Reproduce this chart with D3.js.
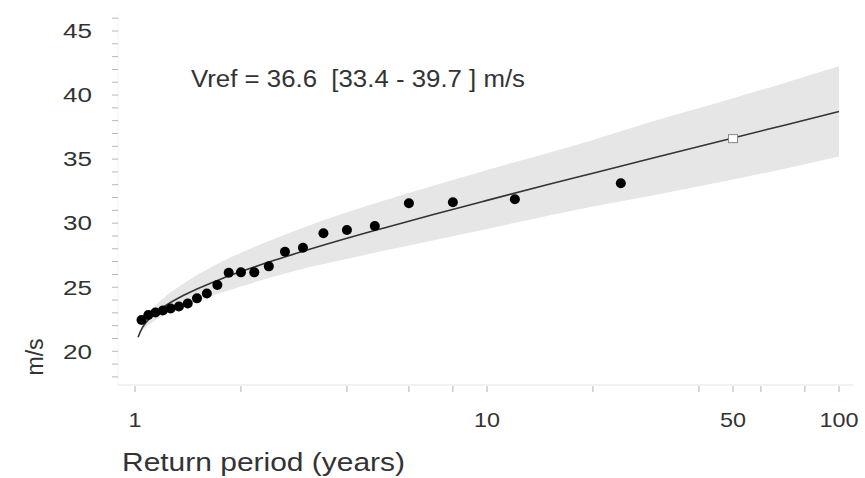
<!DOCTYPE html>
<html><head><meta charset="utf-8">
<script src="https://cdn.jsdelivr.net/npm/d3@7"></script>
<style>body{margin:0;background:#fff}svg{display:block}text{font-family:"Liberation Sans",Arial,sans-serif;fill:#333;white-space:pre}</style>
</head><body><svg id="c" width="865" height="478"></svg>
<script>
// Observed annual maxima: return period (years) and speed (m/s)
const obsT = [24,12,8,6,4.8,4,3.43,3,2.667,2.4,2.182,2,1.846,1.714,1.6,1.5,1.412,1.333,1.263,1.2,1.143,1.091,1.0435];
const obsV = [33.11,31.86,31.63,31.55,29.78,29.47,29.21,28.08,27.77,26.63,26.16,26.16,26.13,25.17,24.51,24.13,23.73,23.49,23.34,23.18,23.03,22.83,22.44];
// Fitted curve
const fitT = [1.02,1.05,1.1,1.2,1.35,1.5,1.75,2,2.5,3,4,5,7,10,15,20,30,50,70,100];
const fitV = [21.10,21.86,22.56,23.42,24.26,24.86,25.63,26.22,27.12,27.80,28.82,29.56,30.66,31.78,33.03,33.90,35.12,36.65,37.65,38.71];
// Confidence band
const bandT = [1.04,1.1,1.2,1.35,1.5,1.75,2,2.5,3,4,5,7,10,15,20,30,50,70,100];
const bandUp = [21.8,23.0,24.1,25.15,25.95,26.95,27.7,28.8,29.65,30.85,31.7,32.9,34.15,35.5,36.5,38.0,39.75,40.95,42.25];
const bandLo = [21.5,22.1,22.8,23.45,23.9,24.55,25.05,25.85,26.45,27.2,27.8,28.65,29.55,30.6,31.3,32.2,33.4,34.25,35.2];
// Reference value
const refT = [50];
const refV = [36.6];
// Ticks
const xTicks = [1,2,4,6,8,10,20,40,50,60,80,100];
const xLabels = [1,10,50,100];
const yTicks = d3.range(18,47);
const yLabels = [20,25,30,35,40,45];
const annotation = "Vref = 36.6  [33.4 - 39.7 ] m/s";

const svg = d3.select("#c");
const x = d3.scaleLog().domain([1,100]).range([135,839]);
const y = d3.scaleLinear().domain([18,45]).range([376.9,31]);

// band
const band = bandT.map((t,i)=>({t,u:bandUp[i],l:bandLo[i]}));
svg.append("path").datum(band)
  .attr("d", d3.area().x(d=>x(d.t)).y0(d=>y(d.l)).y1(d=>y(d.u)).curve(d3.curveMonotoneX))
  .attr("fill","#e6e6e6");

// axes
svg.append("line").attr("x1",118).attr("x2",853).attr("y1",385).attr("y2",385).attr("stroke","#e2e2e2");
svg.append("line").attr("x1",118).attr("x2",118).attr("y1",14).attr("y2",385).attr("stroke","#f3f3f3");
svg.selectAll(".xt").data(xTicks).join("line")
  .attr("x1",d=>x(d)).attr("x2",d=>x(d)).attr("y1",386).attr("y2",392).attr("stroke","#b0b0b0");
svg.selectAll(".yt").data(yTicks).join("line")
  .attr("x1",112).attr("x2",118).attr("y1",d=>y(d)).attr("y2",d=>y(d)).attr("stroke","#b8b8b8");
svg.selectAll(".xl").data(xLabels).join("text")
  .attr("x",d=>x(d)).attr("y",427).attr("text-anchor","middle").attr("font-size",21)
  .attr("textLength",d=>String(d).length*13).attr("lengthAdjust","spacingAndGlyphs").text(d=>d);
svg.selectAll(".yl").data(yLabels).join("text")
  .attr("x",92).attr("y",d=>y(d)+7.3).attr("text-anchor","end").attr("font-size",20)
  .attr("textLength",29).attr("lengthAdjust","spacingAndGlyphs").text(d=>d);

// fit line
svg.append("path").datum(fitT.map((t,i)=>[t,fitV[i]]))
  .attr("d", d3.line().x(d=>x(d[0])).y(d=>y(d[1])).curve(d3.curveMonotoneX))
  .attr("fill","none").attr("stroke","#333").attr("stroke-width",1.6);

// observations
svg.selectAll(".pt").data(obsT.map((t,i)=>[t,obsV[i]])).join("circle")
  .attr("cx",d=>x(d[0])).attr("cy",d=>y(d[1])).attr("r",5).attr("fill","#000");

// reference marker
svg.selectAll(".ref").data(refT.map((t,i)=>[t,refV[i]])).join("rect")
  .attr("x",d=>x(d[0])-4.5).attr("y",d=>y(d[1])-4).attr("width",9).attr("height",8)
  .attr("fill","#fff").attr("stroke","#888").attr("stroke-width",1);

// texts
svg.append("text").attr("x",191).attr("y",86.5).attr("font-size",23)
  .attr("textLength",334).attr("lengthAdjust","spacingAndGlyphs").text(annotation);
svg.append("text").attr("x",122).attr("y",471).attr("font-size",25)
  .attr("textLength",283).attr("lengthAdjust","spacingAndGlyphs").text("Return period (years)");
svg.append("text").attr("transform","translate(43,357) rotate(-90)").attr("text-anchor","middle")
  .attr("font-size",23).text("m/s");
</script></body></html>
